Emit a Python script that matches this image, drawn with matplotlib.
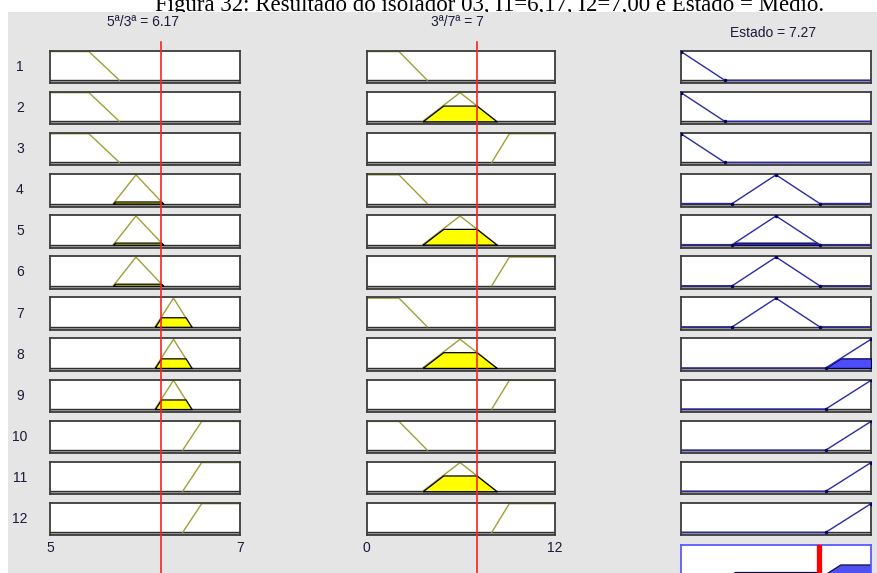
import numpy as np
import matplotlib
matplotlib.use("Agg")
import matplotlib.pyplot as plt
from matplotlib.lines import Line2D
from matplotlib.patches import Rectangle

W, H = 877, 573

# universes and crisp values
in1_range = (5, 7)
in2_range = (0, 12)
out_range = (0, 10)
in1_value = 6.17
in2_value = 7.0
out_value = 7.27

in1_title = "5ª/3ª = 6.17"
in2_title = "3ª/7ª = 7"
out_title = "Estado = 7.27"
fig_title = "Figura 32: Resultado do isolador 03, I1=6,17, I2=7,00 e Estado = Médio."

# membership functions as breakpoints (x, y)
in1_mf_x = [[5, 5.41, 5.73], [5.667, 5.905, 6.19], [6.105, 6.30, 6.49], [6.397, 6.597, 7]]
in1_mf_y = [[1, 1, 0], [0, 1, 0], [0, 1, 0], [0, 1, 1]]
in2_mf_x = [[0, 2.06, 3.86], [3.57, 5.95, 8.28], [7.97, 9.09, 12]]
in2_mf_y = [[1, 1, 0], [0, 1, 0], [0, 1, 1]]
out_mf_x = [[0, 2.3], [2.7, 5.0, 7.3], [7.62, 10]]
out_mf_y = [[1, 0], [0, 1, 0], [0, 1]]

# rule base: which MF each of the 12 rules uses
rule_in1 = [0, 0, 0, 1, 1, 1, 2, 2, 2, 3, 3, 3]
rule_in2 = [0, 1, 2, 0, 1, 2, 0, 1, 2, 0, 1, 2]
rule_out = [0, 0, 0, 1, 1, 1, 1, 2, 2, 2, 2, 2]

OLIVE = "#a0a035"
NAVY = "#2a2aa8"
BLUEFILL = "#4d4dff"
GRAY_BG = "#e5e5e5"
TXT = "#1a1a3a"

fig = plt.figure(figsize=(W / 100, H / 100), dpi=100)
fig.patch.set_facecolor("white")
fig.add_artist(Rectangle((8 / W, 0), 1 - 8 / W, 1 - 12 / H, transform=fig.transFigure,
                         facecolor=GRAY_BG, edgecolor="none", zorder=-10))

def rect(x, y, w, h):
    return [x / W, 1 - (y + h) / H, w / W, h / H]

def mf(xs, px, py):
    return np.interp(xs, px, py)

cols = [(50, 190), (366.7, 188.3), (681, 190)]
row_top0, row_step, row_h = 50.7, 41.1, 32.5
YLIM = (-0.104, 1.03)

def style_box(ax, rng, edge="#3c3c3c"):
    ax.set_xlim(*rng)
    ax.set_ylim(*YLIM)
    ax.set_xticks([]); ax.set_yticks([])
    ax.set_facecolor("white")
    for s in ax.spines.values():
        s.set_color(edge); s.set_linewidth(1.3)

firing = []
for i in range(12):
    top = row_top0 + i * row_step
    # inputs
    for c, (rng, mfx, mfy, idx, val) in enumerate([
            (in1_range, in1_mf_x, in1_mf_y, rule_in1[i], in1_value),
            (in2_range, in2_mf_x, in2_mf_y, rule_in2[i], in2_value)]):
        x0, w = cols[c]
        ax = fig.add_axes(rect(x0, top, w, row_h))
        style_box(ax, rng)
        ax.axhspan(YLIM[0], 0, color="#a8a8a8", lw=0)
        ax.axhline(0, color="#303030", lw=1)
        px, py = mfx[idx], mfy[idx]
        ax.plot(px, py, color=OLIVE, lw=1)
        deg = mf(val, px, py)
        if deg > 0:
            xs = np.linspace(rng[0], rng[1], 600)
            ys = np.minimum(mf(xs, px, py), deg)
            ax.fill_between(xs, 0, ys, where=ys > 0, interpolate=True,
                            facecolor="#ffff00", edgecolor="black", lw=0.9, zorder=3)
    mu1 = mf(in1_value, in1_mf_x[rule_in1[i]], in1_mf_y[rule_in1[i]])
    mu2 = mf(in2_value, in2_mf_x[rule_in2[i]], in2_mf_y[rule_in2[i]])
    fs = min(mu1, mu2)
    firing.append(fs)
    # output
    x0, w = cols[2]
    ax = fig.add_axes(rect(x0, top, w, row_h))
    style_box(ax, out_range)
    ax.axhspan(YLIM[0], 0, color="#a8a8a8", lw=0)
    ax.axhline(0, color="#303030", lw=1)
    px, py = out_mf_x[rule_out[i]], out_mf_y[rule_out[i]]
    fx = [out_range[0]] + px + [out_range[1]]
    fy = [mf(out_range[0], px, py)] + py + [mf(out_range[1], px, py)]
    ax.plot(fx, fy, color=NAVY, lw=1, zorder=4)
    ax.plot(px, py, "o", color="#000060", ms=1.5, zorder=5)
    if fs > 0:
        xs = np.linspace(out_range[0], out_range[1], 600)
        ys = np.minimum(mf(xs, px, py), fs)
        ax.fill_between(xs, 0, ys, where=ys > 0, interpolate=True,
                        facecolor=BLUEFILL, edgecolor="#000050", lw=0.9, zorder=3)
    # row label
    fig.text(20 / W, 1 - (top + row_h / 2) / H, str(i + 1), ha="center", va="center",
             fontsize=10, family="Liberation Sans", color=TXT)

# aggregated output
top = 545
ax = fig.add_axes(rect(cols[2][0], top, cols[2][1], row_h))
style_box(ax, out_range, edge="#5a5aff")
xs = np.linspace(out_range[0], out_range[1], 800)
agg = np.zeros_like(xs)
for i in range(12):
    px, py = out_mf_x[rule_out[i]], out_mf_y[rule_out[i]]
    agg = np.maximum(agg, np.minimum(mf(xs, px, py), firing[i]))
ax.fill_between(xs, 0, agg, where=agg > 0, interpolate=True,
                facecolor="#5050f0", edgecolor="#101040", lw=0.9)
ax.axvline(out_value, color="#ff0000", lw=3.8, zorder=5)

# red lines for crisp inputs
for c, (rng, val) in enumerate([(in1_range, in1_value), (in2_range, in2_value)]):
    x0, w = cols[c]
    xp = x0 + (val - rng[0]) / (rng[1] - rng[0]) * w
    fig.add_artist(Line2D([xp / W, xp / W], [0, 1 - 42 / H], transform=fig.transFigure,
                          color="#ff2020", lw=1.2, zorder=20))

# titles
fig.text(143 / W, 1 - 22 / H, in1_title, ha="center", va="center", fontsize=10,
         family="Liberation Sans", color=TXT)
fig.text(457 / W, 1 - 22 / H, in2_title, ha="center", va="center", fontsize=10,
         family="Liberation Sans", color=TXT)
fig.text(773 / W, 1 - 33 / H, out_title, ha="center", va="center", fontsize=10,
         family="Liberation Sans", color=TXT)

# axis range labels under the last row
for c, rng in enumerate([in1_range, in2_range]):
    x0, w = cols[c]
    for xv, txt in [(x0, str(rng[0])), (x0 + w, str(rng[1]))]:
        fig.text(xv / W, 1 - 548 / H, txt, ha="center", va="center", fontsize=10,
                 family="Liberation Sans", color=TXT)

# page caption, partly hidden behind the viewer window
fig.text(490 / W, 1 - 11.5 / H, fig_title, ha="center", va="baseline", fontsize=16.5,
         family="Liberation Serif", color="black", zorder=-20)

fig.savefig("out.png", dpi=100)
